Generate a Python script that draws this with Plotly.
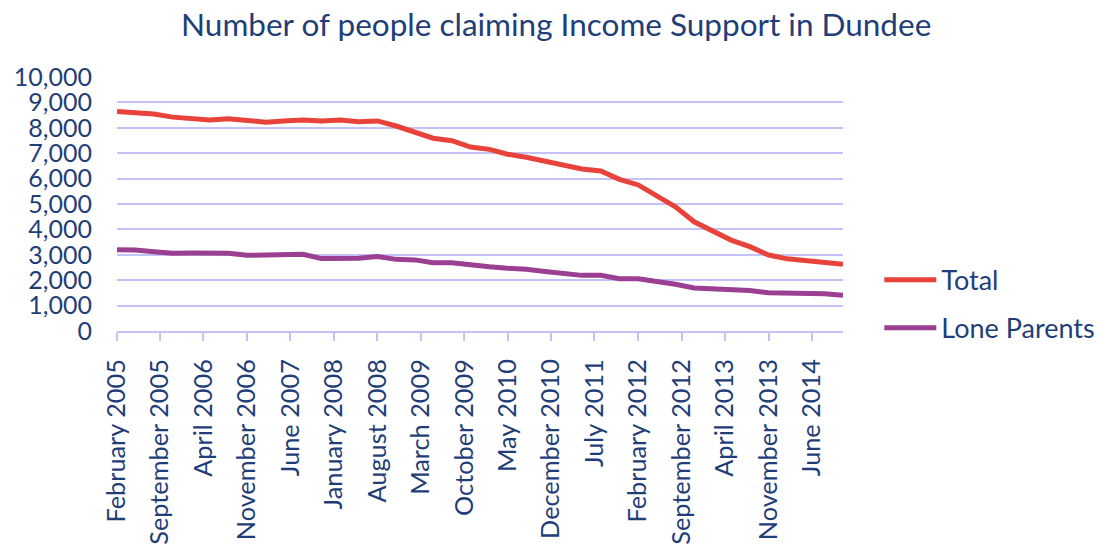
import plotly.graph_objects as go

# Quarterly claimant counts, February 2005 to November 2014
periods = [f"{y}-{m:02d}-01" for y in range(2005, 2015) for m in (2, 5, 8, 11)]

total = [8640, 8590, 8540, 8420, 8370, 8310, 8360, 8280, 8220, 8270,
         8310, 8270, 8310, 8240, 8270, 8070, 7850, 7590, 7490, 7240,
         7150, 6960, 6840, 6670, 6510, 6380, 6300, 5970, 5750, 5350,
         4890, 4300, 3910, 3580, 3320, 2990, 2840, 2770, 2700, 2630]

lone_parents = [3200, 3190, 3120, 3060, 3070, 3080, 3060, 2980, 2980, 2980,
                3020, 2850, 2860, 2860, 2930, 2820, 2800, 2690, 2690, 2590,
                2530, 2470, 2430, 2340, 2260, 2190, 2190, 2060, 2060, 1970,
                1840, 1690, 1650, 1640, 1590, 1510, 1500, 1490, 1470, 1410]

# Axis labels every seven months
tick_dates = ["2005-02-01", "2005-09-01", "2006-04-01", "2006-11-01", "2007-06-01",
              "2008-01-01", "2008-08-01", "2009-03-01", "2009-10-01", "2010-05-01",
              "2010-12-01", "2011-07-01", "2012-02-01", "2012-09-01", "2013-04-01",
              "2013-11-01", "2014-06-01"]
tick_labels = ["February 2005", "September 2005", "April 2006", "November 2006",
               "June 2007", "January 2008", "August 2008", "March 2009",
               "October 2009", "May 2010", "December 2010", "July 2011",
               "February 2012", "September 2012", "April 2013", "November 2013",
               "June 2014"]

y_ticks = list(range(0, 10001, 1000))
y_labels = [f"{v:,}" for v in y_ticks]

TEXT = "#1F3E78"
GRID = "#C3C3F7"
FONT = "Lato"

fig = go.Figure()
fig.add_trace(go.Scatter(x=periods, y=total, name="Total", mode="lines",
                         legendgroup="a",
                         line=dict(color="#E8433A", width=5)))
fig.add_trace(go.Scatter(x=periods, y=lone_parents, name="Lone Parents", mode="lines",
                         legendgroup="b",
                         line=dict(color="#9B3F92", width=5)))

fig.update_layout(
    width=1097, height=544,
    margin=dict(l=117, r=254, t=77, b=213, autoexpand=False),
    paper_bgcolor="white", plot_bgcolor="white",
    font=dict(family=FONT, color=TEXT, size=25),
    title=dict(text="Number of people claiming Income Support in Dundee",
               x=0.507, xanchor="center", y=0.955, yanchor="middle",
               font=dict(family=FONT, size=31.5, color=TEXT)),
    showlegend=True,
    legend=dict(x=1.05, xanchor="left", y=0.106, yanchor="middle",
                font=dict(family=FONT, size=27, color=TEXT),
                tracegroupgap=10, itemwidth=52, bgcolor="rgba(0,0,0,0)"),
    xaxis=dict(
        range=["2005-02-01", "2014-11-01"],
        tickmode="array", tickvals=tick_dates, ticktext=tick_labels,
        tickangle=-90, tickfont=dict(family=FONT, size=25.3, color=TEXT),
        showgrid=False, showline=True, linecolor=GRID, linewidth=2,
        ticks="outside", ticklen=8, tickcolor=GRID, tickwidth=2,
        zeroline=False, ticklabelstandoff=8, automargin=False,
    ),
    yaxis=dict(
        range=[0, 10000],
        tickmode="array", tickvals=y_ticks, ticktext=y_labels,
        tickfont=dict(family=FONT, size=25, color=TEXT),
        showgrid=True, gridcolor=GRID, gridwidth=2,
        zeroline=False, showline=False, ticks="", ticklabelstandoff=24,
        automargin=False,
    ),
)

fig.write_html("out.html")
